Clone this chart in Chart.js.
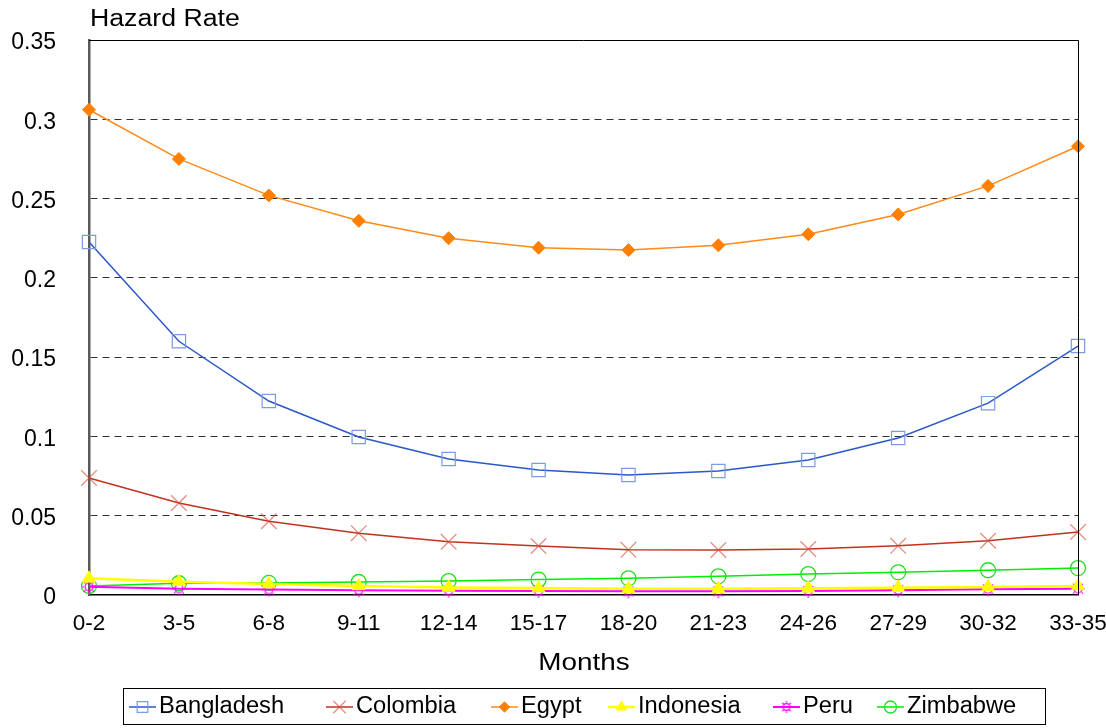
<!DOCTYPE html>
<html>
<head>
<meta charset="utf-8">
<script src="https://cdn.jsdelivr.net/npm/chart.js@4/dist/chart.umd.min.js"></script>
<style>
  html, body { margin: 0; padding: 0; background: #fff; }
  #wrap { width: 1106px; height: 728px; }
</style>
</head>
<body>
<div id="wrap"><canvas id="c" width="1106" height="728"></canvas></div>
<script>
// Age groups in months
const months = ['0-2', '3-5', '6-8', '9-11', '12-14', '15-17', '18-20', '21-23', '24-26', '27-29', '30-32', '33-35'];

// Hazard rates per country
const bangladesh = [0.2226, 0.160, 0.1223, 0.0996, 0.0858, 0.0788, 0.0757, 0.0782, 0.0851, 0.099, 0.121, 0.157];
const colombia   = [0.0738, 0.058, 0.0465, 0.039, 0.0336, 0.0309, 0.0285, 0.0284, 0.029, 0.031, 0.0342, 0.0397];
const egypt      = [0.306, 0.275, 0.252, 0.236, 0.225, 0.219, 0.2175, 0.2205, 0.2275, 0.240, 0.258, 0.283];
const indonesia  = [0.0105, 0.0084, 0.0069, 0.0057, 0.0047, 0.0044, 0.004, 0.004, 0.0042, 0.0046, 0.005, 0.0057];
const peru       = [0.0052, 0.004, 0.0034, 0.003, 0.0027, 0.0025, 0.0023, 0.0023, 0.0025, 0.003, 0.0036, 0.004];
const zimbabwe   = [0.0057, 0.0074, 0.0076, 0.0082, 0.0088, 0.0097, 0.0105, 0.0118, 0.0132, 0.0143, 0.0156, 0.017];

// Y axis tick labels
const yTickLabels = ['0', '0.05', '0.1', '0.15', '0.2', '0.25', '0.3', '0.35'];

const FONT = "'Liberation Sans', Arial, sans-serif";

// Small circle with rays, used as the Peru marker
function sunMarker(color, scale) {
  const s = Math.ceil(18 * scale), c = document.createElement('canvas');
  c.width = s; c.height = s;
  const g = c.getContext('2d');
  g.strokeStyle = color; g.lineWidth = 1.2;
  g.beginPath(); g.arc(s / 2, s / 2, 4 * scale, 0, Math.PI * 2); g.stroke();
  for (let k = 0; k < 8; k++) {
    const a = k * Math.PI / 4;
    g.beginPath();
    g.moveTo(s / 2 + Math.cos(a) * 5 * scale, s / 2 + Math.sin(a) * 5 * scale);
    g.lineTo(s / 2 + Math.cos(a) * 7 * scale, s / 2 + Math.sin(a) * 7 * scale);
    g.stroke();
  }
  return c;
}
const peruMarker = sunMarker('#ff00ff', 1);
const peruLegendMarker = sunMarker('#ff00ff', 0.85);

const series = [
  { label: 'Bangladesh', data: bangladesh, borderColor: '#2a58c8', borderWidth: 1.5,
    pointStyle: 'rect', pointRadius: 9.4, pointBorderColor: '#7d9be0', pointBackgroundColor: 'rgba(255,255,255,0)', pointBorderWidth: 1.2 },
  { label: 'Colombia', data: colombia, borderColor: '#c0331f', borderWidth: 1.5,
    pointStyle: 'crossRot', pointRadius: 11, pointBorderColor: 'rgba(205,70,50,0.6)', pointBackgroundColor: 'rgba(0,0,0,0)', pointBorderWidth: 1.3 },
  { label: 'Egypt', data: egypt, borderColor: '#ff8a1a', borderWidth: 1.5,
    pointStyle: 'rectRot', pointRadius: 6.5, pointBorderColor: '#ff8000', pointBackgroundColor: '#ff8000', pointBorderWidth: 1 },
  { label: 'Indonesia', data: indonesia, borderColor: '#ffff00', borderWidth: 2.5,
    pointStyle: 'triangle', pointRadius: 7.5, pointBorderColor: '#ffff00', pointBackgroundColor: '#ffff00', pointBorderWidth: 1 },
  { label: 'Peru', data: peru, borderColor: '#ff00ff', borderWidth: 2,
    pointStyle: peruMarker, pointRadius: 7, pointBorderColor: '#ff00ff', pointBackgroundColor: 'rgba(0,0,0,0)', pointBorderWidth: 1 },
  { label: 'Zimbabwe', data: zimbabwe, borderColor: '#00ee00', borderWidth: 1.5,
    pointStyle: 'circle', pointRadius: 7.5, pointBorderColor: '#22dd22', pointBackgroundColor: 'rgba(0,0,0,0)', pointBorderWidth: 1.3 }
];

const datasets = series.map(s => Object.assign({ fill: false, tension: 0, clip: false, pointHoverRadius: s.pointRadius }, s));

// Left edge of each legend entry (marker line start)
const legendSlots = [129, 326, 491, 608, 773, 877];
const LEGEND_MARK = 0.8;

// Marker shapes for the legend, same geometry as Chart.js point styles
function drawMarker(ctx, ds, x, y) {
  const st = ds.pointStyle, r = ds.pointRadius * LEGEND_MARK;
  if (typeof st === 'object') {
    const img = peruLegendMarker;
    ctx.drawImage(img, x - img.width / 2, y - img.height / 2);
    return;
  }
  ctx.save();
  ctx.strokeStyle = ds.pointBorderColor;
  ctx.fillStyle = ds.pointBackgroundColor;
  ctx.lineWidth = ds.pointBorderWidth;
  ctx.beginPath();
  if (st === 'rect') {
    const h = Math.SQRT1_2 * r;
    ctx.rect(x - h, y - h, 2 * h, 2 * h);
    ctx.fill(); ctx.stroke();
  } else if (st === 'rectRot') {
    ctx.moveTo(x - r, y); ctx.lineTo(x, y - r); ctx.lineTo(x + r, y); ctx.lineTo(x, y + r); ctx.closePath();
    ctx.fill(); ctx.stroke();
  } else if (st === 'triangle') {
    for (let k = 0; k < 3; k++) {
      const a = k * 2 * Math.PI / 3;
      const px = x + Math.sin(a) * r, py = y - Math.cos(a) * r;
      if (k === 0) ctx.moveTo(px, py); else ctx.lineTo(px, py);
    }
    ctx.closePath(); ctx.fill(); ctx.stroke();
  } else if (st === 'crossRot') {
    const o = Math.SQRT1_2 * r;
    ctx.moveTo(x - o, y - o); ctx.lineTo(x + o, y + o);
    ctx.moveTo(x - o, y + o); ctx.lineTo(x + o, y - o);
    ctx.stroke();
  } else if (st === 'circle') {
    ctx.arc(x, y, r, 0, Math.PI * 2);
    ctx.fill(); ctx.stroke();
  }
  ctx.restore();
}

// Text drawn with a horizontal stretch factor
function stretchText(ctx, text, x, y, sx, align) {
  ctx.save();
  ctx.translate(x, y);
  ctx.scale(sx, 1);
  ctx.textAlign = align;
  ctx.fillText(text, 0, 0);
  ctx.restore();
}

const decorations = {
  id: 'decorations',
  afterDraw(chart) {
    const ctx = chart.ctx, a = chart.chartArea;
    ctx.save();
    // top and right frame
    ctx.strokeStyle = '#000'; ctx.lineWidth = 1;
    ctx.beginPath();
    ctx.moveTo(a.left, a.top + 0.5); ctx.lineTo(a.right + 0.5, a.top + 0.5);
    ctx.lineTo(a.right + 0.5, a.bottom);
    ctx.stroke();

    // axis titles
    ctx.fillStyle = '#000';
    ctx.textBaseline = 'middle';
    ctx.font = '23px ' + FONT;
    stretchText(ctx, 'Hazard Rate', 90, 20, 1.16, 'left');
    ctx.font = '24px ' + FONT;
    stretchText(ctx, 'Months', 584, 663, 1.16, 'center');

    // legend box
    ctx.strokeStyle = '#000'; ctx.lineWidth = 1;
    ctx.strokeRect(123.5, 688.5, 922, 36);
    ctx.font = '23px ' + FONT;
    const ly = 707;
    chart.data.datasets.forEach((ds, i) => {
      const x0 = legendSlots[i];
      ctx.strokeStyle = ds.borderColor;
      ctx.lineWidth = ds.borderWidth;
      ctx.beginPath(); ctx.moveTo(x0, ly); ctx.lineTo(x0 + 27, ly); ctx.stroke();
      drawMarker(ctx, ds, x0 + 13.5, ly);
      ctx.fillStyle = '#000';
      stretchText(ctx, ds.label, x0 + 30, ly, 1.03, 'left');
    });
    ctx.restore();
  }
};

new Chart(document.getElementById('c'), {
  type: 'line',
  data: { labels: months, datasets },
  plugins: [decorations],
  options: {
    responsive: false,
    devicePixelRatio: 1,
    animation: false,
    events: [],
    layout: { padding: { top: 40, right: 28, left: 0, bottom: 0 } },
    plugins: { legend: { display: false }, tooltip: { enabled: false }, title: { display: false } },
    scales: {
      x: {
        offset: false,
        grid: { display: false, drawTicks: false },
        border: { display: true, color: '#000', width: 1.5 },
        ticks: { color: '#000', font: { family: FONT, size: 22.5 }, padding: 15, maxRotation: 0, autoSkip: false },
        afterFit: s => { s.height = 133; s.paddingLeft = 0; s.paddingRight = 0; }
      },
      y: {
        min: 0, max: 0.35,
        grid: {
          drawTicks: false,
          color: c => (c.index === 0 || c.index === yTickLabels.length - 1) ? 'rgba(0,0,0,0)' : '#333',
          lineWidth: 1
        },
        border: { display: true, color: '#5a5a5a', width: 2.5, dash: [7, 5] },
        ticks: {
          stepSize: 0.05, color: '#000', font: { family: FONT, size: 23 }, padding: 33, labelOffset: 3,
          callback: (v, i) => yTickLabels[i]
        },
        afterFit: s => { s.width = 89; s.paddingTop = 0; s.paddingBottom = 0; }
      }
    }
  }
});
</script>
</body>
</html>
